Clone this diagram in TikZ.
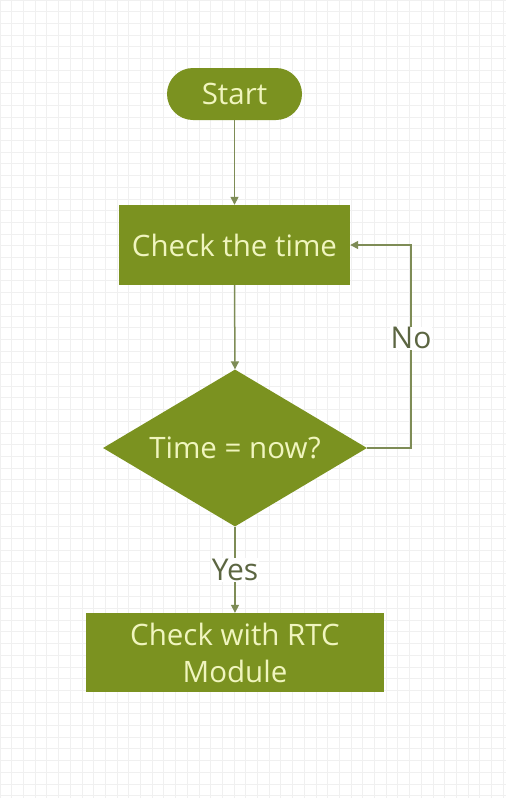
\documentclass[tikz,border=0pt]{standalone}
\usepackage{fontspec}
\setmainfont{Open Sans}
\usetikzlibrary{arrows.meta,shapes.geometric}
\definecolor{olive}{RGB}{123,146,32}
\definecolor{paletext}{RGB}{240,245,190}
\definecolor{flowline}{RGB}{126,140,86}
\definecolor{labeltext}{RGB}{92,102,66}
\definecolor{gridline}{RGB}{240,240,240}
\tikzset{
  block/.style={draw=none, fill=olive, text=paletext, font=\fontsize{29.5}{37}\selectfont,
    align=center, inner sep=0pt},
  flow/.style={draw=flowline, line width=1.5pt, -{Triangle[length=8pt,width=8pt]}},
  answer/.style={text=labeltext, font=\fontsize{30}{36}\selectfont, fill=white, inner sep=1pt}
}
\begin{document}
\begin{tikzpicture}[x=1pt,y=-1pt]
\useasboundingbox (0,0) rectangle (506,798);
\fill[white] (0,0) rectangle (506,798);
% faint squared paper
\draw[gridline, line width=0.7pt, step=11.7pt] (0,0) grid (506,798);

% shapes
\node[block, minimum width=135pt, minimum height=52pt, rounded corners=26pt] (start) at (234.5,94) {Start};
\node[block, minimum width=231pt, minimum height=80pt] (check) at (234.5,245) {Check the time};
\node[block, diamond, aspect=1.68, minimum width=264pt, minimum height=157pt] (dec) at (235,448) {Time = now?};
\node[block, minimum width=298pt, minimum height=79pt] (rtc) at (235,652.5) {Check with RTC\\Module};

% connectors
\draw[flow] (start.south) -- (check.north);
\draw[flow] (check.south) -- (dec.north);
\coordinate (loopcorner) at (411,448);
\draw[flow] (dec.east) -- (loopcorner) |- (check.east) node[answer, pos=0.27] {No};
\draw[flow] (dec.south) -- (rtc.north) node[answer, pos=0.5] {Yes};
\end{tikzpicture}
\end{document}
